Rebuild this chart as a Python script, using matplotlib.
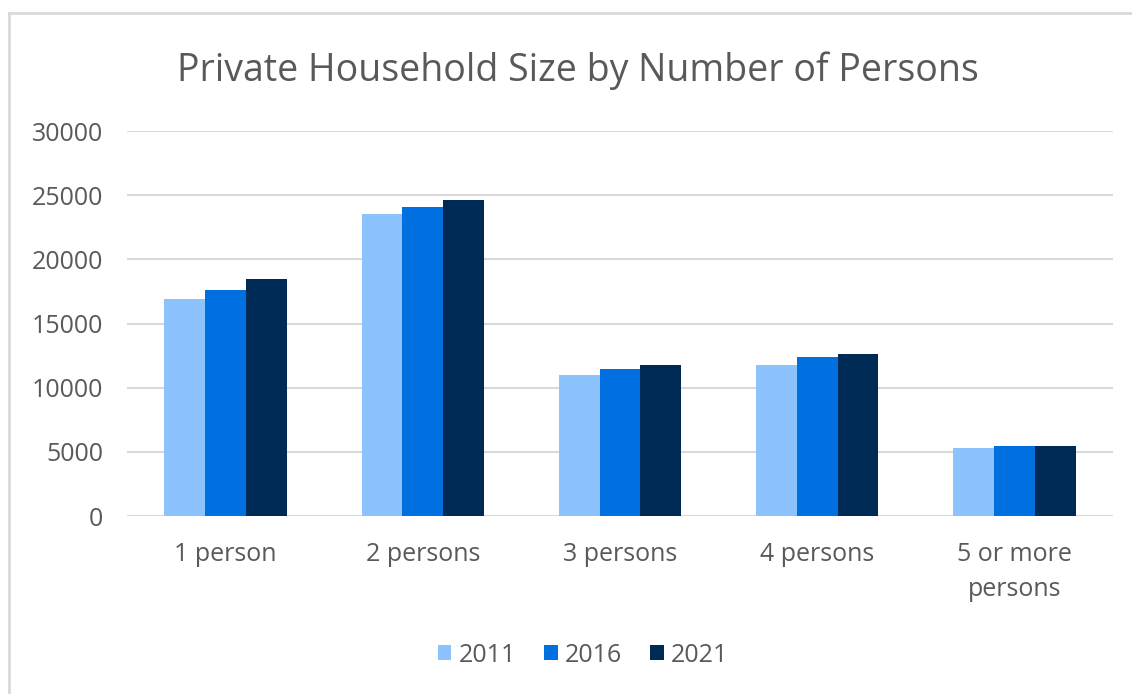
import matplotlib
matplotlib.use('Agg')
import matplotlib.pyplot as plt
from matplotlib.lines import Line2D
import numpy as np

categories = ['1 person', '2 persons', '3 persons', '4 persons', '5 or more\npersons']
years = ['2011', '2016', '2021']
v2011 = [16900, 23500, 11000, 11800, 5300]
v2016 = [17600, 24100, 11450, 12400, 5450]
v2021 = [18450, 24600, 11800, 12650, 5450]
colors = ['#8DC3FD', '#006FDF', '#002A56']

plt.rcParams['font.family'] = ['Open Sans', 'DejaVu Sans']
txt = '#595959'

fig = plt.figure(figsize=(11.32, 6.94), dpi=100)
ax = fig.add_axes([127/1132, 1 - 516/694, (1113-127)/1132, (516-131)/694])

x = np.arange(len(categories))
w = 0.207
for k, (vals, yr) in enumerate(zip([v2011, v2016, v2021], years)):
    ax.bar(x + (k - 1) * w, vals, width=w, color=colors[k], label=yr, zorder=3)

ax.set_xlim(-0.5, len(categories) - 0.5)
ax.set_ylim(0, 30000)
ax.set_yticks(range(0, 30001, 5000))
ax.set_xticks(x)
ax.set_xticklabels(categories)
ax.grid(axis='y', color='#D9D9D9', linewidth=1.5, zorder=0)
for s in ax.spines.values():
    s.set_visible(False)
ax.tick_params(length=0, labelsize=18, labelcolor=txt)
ax.tick_params(axis='y', pad=17)
ax.tick_params(axis='x', pad=19)
for lab in ax.get_xticklabels():
    lab.set_linespacing(1.5)

fig.text(578/1132, 1 - 71/694, 'Private Household Size by Number of Persons',
         ha='center', va='center', fontsize=27, color=txt)

ax.legend(loc='center', bbox_to_anchor=(583/1132, 1 - 655/694), bbox_transform=fig.transFigure,
          ncol=3, frameon=False, fontsize=18, labelcolor=txt, handlelength=0.55,
          handleheight=0.55, handletextpad=0.3, columnspacing=1.1)

# chart border (left and top visible)
fig.add_artist(Line2D([9/1132, 9/1132], [0, 1 - 13/694], transform=fig.transFigure, color='#D9D9D9', lw=2))
fig.add_artist(Line2D([9/1132, 1], [1 - 13/694, 1 - 13/694], transform=fig.transFigure, color='#D9D9D9', lw=2))

plt.savefig('out.png', dpi=100)
plt.close()
